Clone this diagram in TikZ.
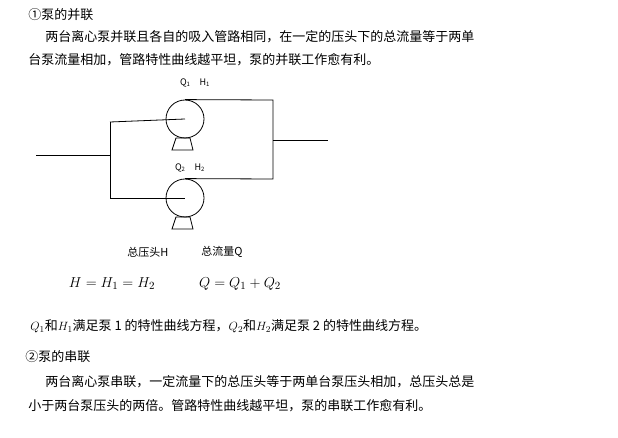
\documentclass[tikz,border=0pt]{standalone}
\usepackage{fontspec}
\newfontfamily\cjk{Noto Sans CJK SC}
\setmainfont{Liberation Serif}
\begin{document}
\begin{tikzpicture}[x=1pt,y=-1pt,line width=0.8pt,
  txt/.style={anchor=west,inner sep=0pt,font=\cjk\fontsize{13}{15}\selectfont},
  sm/.style={inner sep=0pt,font=\cjk\fontsize{9}{10}\selectfont},
  pump/.style={draw,circle,minimum size=38pt,inner sep=0pt}]
\useasboundingbox (0,0) rectangle (618,438);
\node[txt] (t1) at (28,15) {①泵的并联};
\node[txt] (t2) at (45,37) {两台离心泵并联且各自的吸入管路相同，在一定的压头下的总流量等于两单};
\node[txt] (t3) at (28,60) {台泵流量相加，管路特性曲线越平坦，泵的并联工作愈有利。};
% pumps
\node[pump] (p1) at (185,119) {};
\node[pump] (p2) at (185,198) {};
\draw (176,138) -- (190,138) -- (193,150) -- (172,150) -- cycle;
\draw (176,217) -- (190,217) -- (193,229) -- (172,229) -- cycle;
\coordinate (a) at (36,155);
\coordinate (b) at (110,155);
\coordinate (c) at (273,140);
\coordinate (d) at (328,140);
\draw (a) -- (b);
\draw (110,122) -- (110,198);
\draw (110,122) -- (p1.center);
\draw (110,198) -- (p2.center);
\draw (p1.north) -- (273,100) -- (273,179) -- (p2.north);
\draw (c) -- (d);
\node[sm] (l1) at (195,83) {Q\textsubscript{1}\quad H\textsubscript{1}};
\node[sm] (l2) at (190,168) {Q\textsubscript{2}\quad H\textsubscript{2}};
\node[sm,font=\cjk\fontsize{11}{12}\selectfont] (l3) at (148,252) {总压头H};
\node[sm,font=\cjk\fontsize{11}{12}\selectfont] (l4) at (222,252) {总流量Q};
\node[inner sep=0pt,font=\fontsize{15}{17}\selectfont] (e1) at (112,284) {$H=H_1=H_2$};
\node[inner sep=0pt,font=\fontsize{15}{17}\selectfont] (e2) at (240,284) {$Q=Q_1+Q_2$};
\node[txt] (t4) at (30,326) {$Q_1$和$H_1$满足泵 1 的特性曲线方程，$Q_2$和$H_2$满足泵 2 的特性曲线方程。};
\node[txt] (t5) at (25,357) {②泵的串联};
\node[txt] (t6) at (45,382) {两台离心泵串联，一定流量下的总压头等于两单台泵压头相加，总压头总是};
\node[txt] (t7) at (28,406) {小于两台泵压头的两倍。管路特性曲线越平坦，泵的串联工作愈有利。};
\end{tikzpicture}
\end{document}
